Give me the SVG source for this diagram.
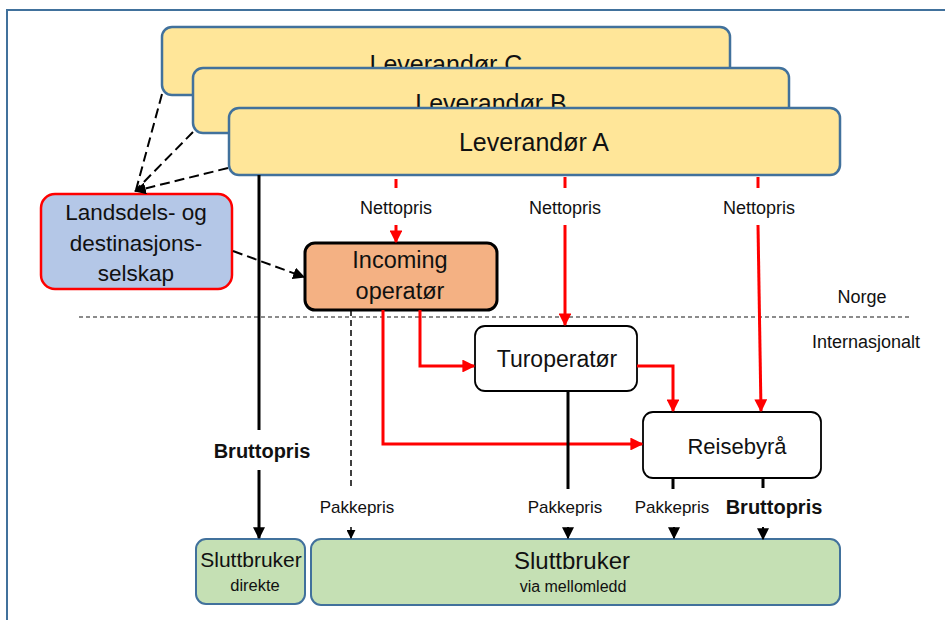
<svg xmlns="http://www.w3.org/2000/svg" width="945" height="620" viewBox="0 0 945 620">
<style>
  text { font-family: "Liberation Sans", Arial, sans-serif; fill: #111; text-anchor: middle; }
  .lev { fill: #FFE699; stroke: #41719C; stroke-width: 2.5; }
  .red { stroke: #FF0000; stroke-width: 3; fill: none; }
  .blk { stroke: #000; stroke-width: 3; fill: none; }
  .dash { stroke: #000; stroke-width: 2; fill: none; stroke-dasharray: 10 5; }
  .lbl { font-size: 17px; }
  .net { font-size: 18px; }
  .bold { font-weight: bold; font-size: 20px; }
  .green { fill: #C5E0B4; stroke: #41719C; stroke-width: 2; }
</style>
<defs>
  <marker id="ar" viewBox="0 0 10 10" refX="9" refY="5" markerWidth="4.3" markerHeight="4.3" orient="auto" markerUnits="strokeWidth">
    <path d="M0,0 L10,5 L0,10 z" fill="#FF0000"/>
  </marker>
  <marker id="ab" viewBox="0 0 10 10" refX="9" refY="5" markerWidth="4" markerHeight="4" orient="auto" markerUnits="strokeWidth">
    <path d="M0,0 L10,5 L0,10 z" fill="#000"/>
  </marker>
  <marker id="ad" viewBox="0 0 10 10" refX="9" refY="5" markerWidth="6" markerHeight="6" orient="auto" markerUnits="strokeWidth">
    <path d="M0,0 L10,5 L0,10 z" fill="#000"/>
  </marker>
</defs>
<rect width="945" height="620" fill="#fff"/>
<!-- frame -->
<path d="M7,620 L7,10 L945,10" fill="none" stroke="#41719C" stroke-width="2"/>

<!-- region divider -->
<line x1="79" y1="317" x2="912" y2="317" stroke="#666" stroke-width="1.3" stroke-dasharray="4 3"/>
<text class="net" x="862" y="303">Norge</text>
<text class="net" x="866" y="348">Internasjonalt</text>

<g id="levC">
  <rect class="lev" x="162" y="27" width="568" height="68" rx="10"/>
  <text x="446" y="73" font-size="25">Leverandør C</text>
</g>
<g id="levB">
  <rect class="lev" x="193" y="68" width="596" height="65" rx="10"/>
  <text x="491" y="112" font-size="25">Leverandør B</text>
</g>
<g id="levA">
  <rect class="lev" x="229" y="108" width="611" height="67" rx="10" stroke-width="3"/>
  <text x="534" y="151" font-size="25">Leverandør A</text>
</g>

<g id="landsdels">
  <rect x="41" y="194" width="191" height="95" rx="14" fill="#B4C7E7" stroke="#FF0000" stroke-width="2.5"/>
  <text x="136" y="220" font-size="22.5">Landsdels- og</text>
  <text x="136" y="251" font-size="22.5">destinasjons-</text>
  <text x="136" y="281" font-size="22.5">selskap</text>
</g>

<g id="incoming">
  <rect x="305" y="243" width="192" height="67" rx="10" fill="#F4B183" stroke="#000" stroke-width="3"/>
  <text x="400" y="268" font-size="23.5">Incoming</text>
  <text x="400" y="299" font-size="23.5">operatør</text>
</g>

<g id="turoperator">
  <rect x="475" y="326" width="162" height="65" rx="10" fill="#fff" stroke="#000" stroke-width="1.8"/>
  <text x="557" y="367" font-size="23">Turoperatør</text>
</g>

<g id="reisebyra">
  <rect x="643" y="412" width="178" height="66" rx="10" fill="#fff" stroke="#000" stroke-width="1.8"/>
  <text x="737" y="454" font-size="22">Reisebyrå</text>
</g>

<g id="sluttDirekte">
  <rect class="green" x="196" y="539" width="109" height="65" rx="10"/>
  <text x="251" y="567" font-size="21">Sluttbruker</text>
  <text x="255" y="591" font-size="16.5">direkte</text>
</g>

<g id="sluttVia">
  <rect class="green" x="311" y="539" width="529" height="66" rx="10"/>
  <text x="572" y="569" font-size="24">Sluttbruker</text>
  <text x="573" y="592" font-size="16">via mellomledd</text>
</g>

<g id="connectors">
  <!-- dashed from suppliers to Landsdels -->
  <line class="dash" x1="162" y1="94" x2="136" y2="190"/>
  <line class="dash" x1="193" y1="132" x2="137" y2="189"/>
  <line class="dash" x1="228" y1="168" x2="135" y2="191" marker-end="url(#ad)"/>
  <!-- dashed Landsdels to Incoming -->
  <line class="dash" x1="233" y1="251" x2="304" y2="277" stroke-width="2.5" marker-end="url(#ad)"/>

  <!-- Nettopris lines -->
  <line class="red" x1="396" y1="179" x2="396" y2="188"/>
  <line class="red" x1="396" y1="225" x2="396" y2="242" marker-end="url(#ar)"/>
  <text class="net" x="396" y="214">Nettopris</text>

  <line class="red" x1="565" y1="177" x2="565" y2="188"/>
  <line class="red" x1="565" y1="225" x2="565" y2="325" marker-end="url(#ar)"/>
  <text class="net" x="565" y="214">Nettopris</text>

  <line class="red" x1="758" y1="177" x2="758" y2="188"/>
  <line class="red" x1="758" y1="225" x2="761" y2="411" marker-end="url(#ar)"/>
  <text class="net" x="759" y="214">Nettopris</text>

  <!-- Incoming to Turo and Reisebyrå -->
  <polyline class="red" points="420,310 420,366 474,366" marker-end="url(#ar)"/>
  <polyline class="red" points="383,310 383,444 642,444" marker-end="url(#ar)"/>
  <!-- Turo to Reisebyrå -->
  <polyline class="red" points="637,366 673,366 673,411" marker-end="url(#ar)"/>

  <!-- Direct Bruttopris -->
  <line class="blk" x1="259" y1="175" x2="259" y2="430"/>
  <line class="blk" x1="259" y1="470" x2="259" y2="538" marker-end="url(#ab)"/>
  <text class="bold" x="262" y="458">Bruttopris</text>

  <!-- Incoming dashed to Sluttbruker -->
  <line x1="351" y1="310" x2="351" y2="488" stroke="#000" stroke-width="1.5" stroke-dasharray="6 4"/>
  <line x1="351" y1="527" x2="351" y2="538" stroke="#000" stroke-width="1.5" marker-end="url(#ad)"/>
  <text class="lbl" x="357" y="513">Pakkepris</text>

  <!-- Turo to Sluttbruker -->
  <line class="blk" x1="568" y1="391" x2="568" y2="489"/>
  <line x1="568" y1="527" x2="568" y2="538" stroke="#000" stroke-width="2" marker-end="url(#ad)"/>
  <text class="lbl" x="565" y="513">Pakkepris</text>

  <!-- Reisebyrå to Sluttbruker -->
  <line class="blk" x1="673" y1="478" x2="673" y2="489"/>
  <line x1="674" y1="527" x2="674" y2="538" stroke="#000" stroke-width="2" marker-end="url(#ad)"/>
  <text class="lbl" x="672" y="513">Pakkepris</text>

  <line class="blk" x1="763" y1="478" x2="763" y2="488"/>
  <line x1="763" y1="527" x2="763" y2="539" stroke="#000" stroke-width="2" marker-end="url(#ad)"/>
  <text class="bold" x="774" y="514">Bruttopris</text>
</g>
</svg>
